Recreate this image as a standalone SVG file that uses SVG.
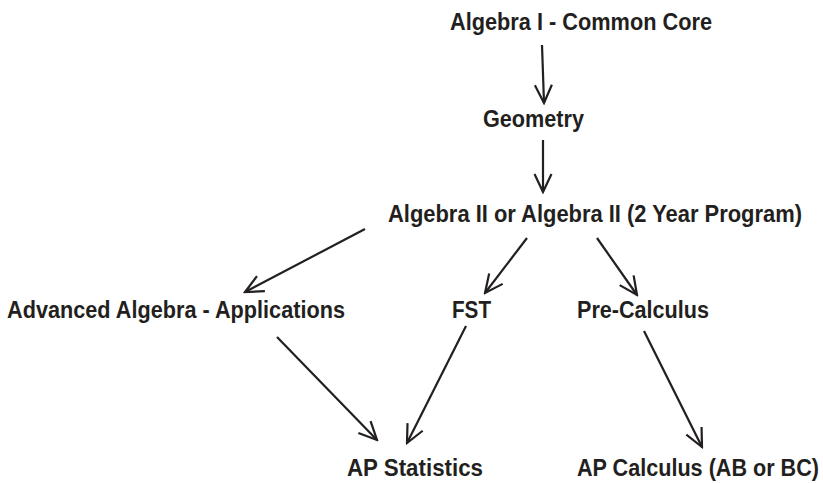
<svg xmlns="http://www.w3.org/2000/svg" width="823" height="483" viewBox="0 0 823 483">
<style>
text{font-family:"Liberation Sans Narrow","Liberation Sans",Arial,sans-serif;font-weight:bold;font-size:23.5px;fill:#231f20}
.c line{stroke:#231f20;stroke-width:2.2;fill:none}
</style>
<defs>
<marker id="v" viewBox="-20 -10 22 20" markerWidth="22" markerHeight="20" refX="0" refY="0" orient="auto" markerUnits="userSpaceOnUse">
<polyline points="-18,-8.5 0,0 -18,8.5" fill="none" stroke="#231f20" stroke-width="2.2"/>
</marker>
</defs>
<rect width="823" height="483" fill="#fff"/>
<g id="alg1"><text x="450" y="30" textLength="262" lengthAdjust="spacingAndGlyphs">Algebra I - Common Core</text></g>
<g id="geometry"><text x="483" y="127" textLength="101" lengthAdjust="spacingAndGlyphs">Geometry</text></g>
<g id="alg2"><text x="388" y="222" textLength="414" lengthAdjust="spacingAndGlyphs">Algebra II or Algebra II (2 Year Program)</text></g>
<g id="advalg"><text x="7" y="318" textLength="338" lengthAdjust="spacingAndGlyphs">Advanced Algebra - Applications</text></g>
<g id="fst"><text x="452" y="318" textLength="39" lengthAdjust="spacingAndGlyphs">FST</text></g>
<g id="precalc"><text x="577" y="318" textLength="132" lengthAdjust="spacingAndGlyphs">Pre-Calculus</text></g>
<g id="apstats"><text x="347" y="476" textLength="136" lengthAdjust="spacingAndGlyphs">AP Statistics</text></g>
<g id="apcalc"><text x="577" y="476" textLength="242" lengthAdjust="spacingAndGlyphs">AP Calculus (AB or BC)</text></g>
<g id="connectors" class="c">
<line x1="542" y1="45" x2="544" y2="103" marker-end="url(#v)"/>
<line x1="543" y1="140" x2="543" y2="192" marker-end="url(#v)"/>
<line x1="365" y1="229" x2="245" y2="292" marker-end="url(#v)"/>
<line x1="527" y1="238" x2="485" y2="293" marker-end="url(#v)"/>
<line x1="597" y1="238" x2="637" y2="295" marker-end="url(#v)"/>
<line x1="277" y1="337" x2="377" y2="440" marker-end="url(#v)"/>
<line x1="466" y1="326" x2="407" y2="443" marker-end="url(#v)"/>
<line x1="644" y1="331" x2="702" y2="447" marker-end="url(#v)"/>
</g>
</svg>
